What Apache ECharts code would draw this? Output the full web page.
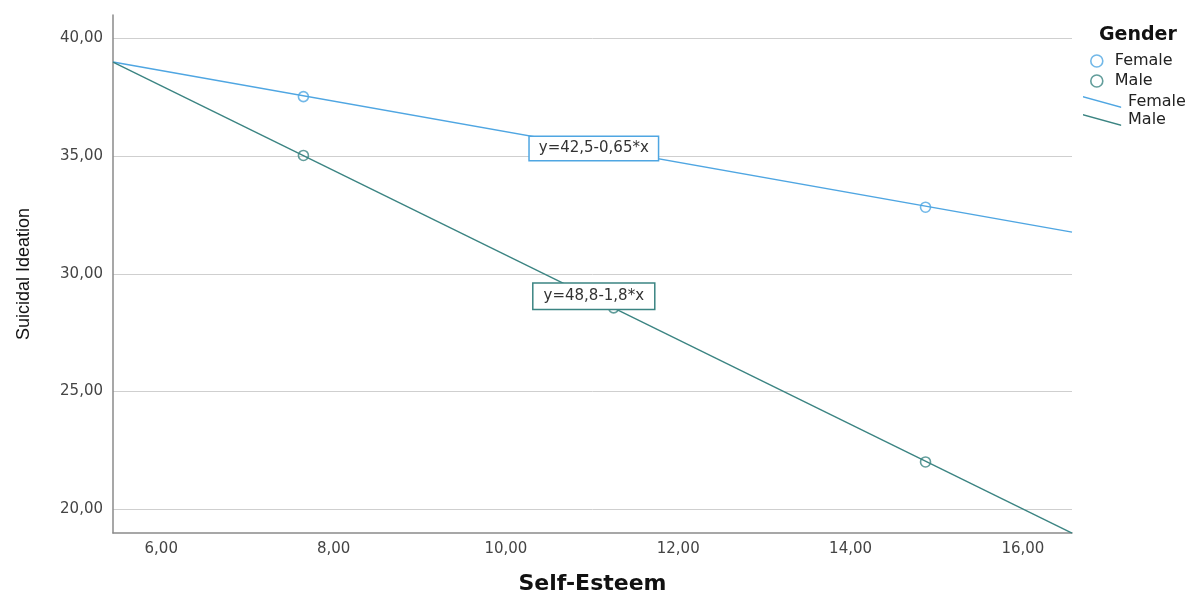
<!DOCTYPE html>
<html>
<head>
<meta charset="utf-8">
<script src="https://cdn.jsdelivr.net/npm/echarts@6/dist/echarts.min.js"></script>
<style>html,body{margin:0;padding:0;background:#fff;}#c{width:1202px;height:595px;}</style>
</head>
<body>
<div id="c"></div>
<script>
// ---- data ----
const xTicks = [6, 8, 10, 12, 14, 16];
const yTicks = [20, 25, 30, 35, 40];
const femaleX = [7.65, 14.87];
const femaleY = [37.53, 32.83];
const maleX = [7.65, 11.25, 14.87];
const maleY = [35.03, 28.55, 22.0];
const fitX = [5.44, 16.57];
const femaleFitY = [39.0, 31.77];
const maleFitY = [39.0, 18.97];
const femaleEq = 'y=42,5-0,65*x';
const maleEq = 'y=48,8-1,8*x';
const femaleEqAt = [11.02, 35.33];
const maleEqAt = [11.02, 29.04];

const FEMALE = '#4fa6e2';
const MALE = '#3b8482';
const fmt = v => v.toFixed(2).replace('.', ',');
const pts = (xs, ys) => xs.map((x, i) => [x, ys[i]]);
const linePath = 'path://M0,0 L40,11 L40,12.6 L0,1.6 Z';

const chart = echarts.init(document.getElementById('c'), null, {renderer: 'canvas'});
chart.setOption({
  animation: false,
  backgroundColor: '#fff',
  title: {
    text: 'Gender', left: 1094, top: 21,
    textStyle: {fontFamily: 'DejaVu Sans', fontWeight: 'bold', fontSize: 19, color: '#111'}
  },
  legend: [
    {
      orient: 'vertical', left: 1085, top: 48, itemWidth: 14, itemHeight: 12, itemGap: 4,
      textStyle: {fontFamily: 'DejaVu Sans', fontSize: 16, color: '#222', padding: [0, 0, 0, 6]},
      data: [
        {name: 'Female', icon: 'circle', itemStyle: {color: '#fff', borderColor: FEMALE, borderWidth: 1.6}},
        {name: 'Male', icon: 'circle', itemStyle: {color: '#fff', borderColor: MALE, borderWidth: 1.6}}
      ]
    },
    {
      orient: 'vertical', left: 1078, top: 89, itemWidth: 42, itemHeight: 12, itemGap: 2,
      textStyle: {fontFamily: 'DejaVu Sans', fontSize: 16, color: '#222'},
      data: [
        {name: 'Female ', icon: linePath, itemStyle: {color: FEMALE, borderWidth: 0}},
        {name: 'Male ', icon: linePath, itemStyle: {color: MALE, borderWidth: 0}}
      ]
    }
  ],
  grid: {left: 113, right: 130, top: 15, bottom: 62, containLabel: false, outerBoundsMode: 'none'},
  xAxis: {
    type: 'value', min: fitX[0], max: fitX[1],
    name: 'Self-Esteem', nameLocation: 'middle', nameGap: 40,
    nameTextStyle: {fontFamily: 'DejaVu Sans', fontWeight: 'bold', fontSize: 22, color: '#111'},
    axisLine: {show: true, onZero: false, lineStyle: {color: '#8a8a8a', width: 1.5}},
    axisTick: {show: false, customValues: xTicks},
    axisLabel: {customValues: xTicks, formatter: fmt, margin: 9,
      fontFamily: 'DejaVu Sans', fontSize: 15, color: '#444'},
    splitLine: {show: false}
  },
  yAxis: {
    type: 'value', min: 18.98, max: 41.0,
    name: 'Suicidal Ideation', nameLocation: 'middle', nameGap: 80, nameRotate: 90,
    nameTextStyle: {fontFamily: 'Liberation Sans', fontSize: 18, color: '#111'},
    axisLine: {show: true, onZero: false, lineStyle: {color: '#8a8a8a', width: 1.5}},
    axisTick: {show: false, customValues: yTicks},
    axisLabel: {customValues: yTicks, formatter: fmt, margin: 10,
      fontFamily: 'DejaVu Sans', fontSize: 15, color: '#444'},
    splitLine: {show: true, lineStyle: {color: '#cfcfcf', width: 1}}
  },
  series: [
    {
      name: 'Female ', type: 'line', data: pts(fitX, femaleFitY), symbol: 'none',
      lineStyle: {color: FEMALE, width: 1.4}, itemStyle: {color: FEMALE}, z: 2,
      markPoint: {
        symbol: 'rect', symbolSize: 0, silent: true,
        data: [{coord: femaleEqAt, value: femaleEq}],
        label: {show: true, position: 'inside', formatter: femaleEq,
          fontFamily: 'DejaVu Sans', fontSize: 15, color: '#333',
          backgroundColor: '#fff', borderColor: FEMALE, borderWidth: 1.5, padding: [4, 9]}
      }
    },
    {
      name: 'Male ', type: 'line', data: pts(fitX, maleFitY), symbol: 'none',
      lineStyle: {color: MALE, width: 1.4}, itemStyle: {color: MALE}, z: 2,
      markPoint: {
        symbol: 'rect', symbolSize: 0, silent: true,
        data: [{coord: maleEqAt, value: maleEq}],
        label: {show: true, position: 'inside', formatter: maleEq,
          fontFamily: 'DejaVu Sans', fontSize: 15, color: '#333',
          backgroundColor: '#fff', borderColor: MALE, borderWidth: 1.5, padding: [5, 10]}
      }
    },
    {
      name: 'Female', type: 'scatter', data: pts(femaleX, femaleY), symbol: 'circle', symbolSize: 10,
      itemStyle: {color: 'rgba(255,255,255,0)', borderColor: FEMALE, borderWidth: 1.6}, z: 3
    },
    {
      name: 'Male', type: 'scatter', data: pts(maleX, maleY), symbol: 'circle', symbolSize: 10,
      itemStyle: {color: 'rgba(255,255,255,0)', borderColor: MALE, borderWidth: 1.6}, z: 1
    }
  ]
});
</script>
</body>
</html>
